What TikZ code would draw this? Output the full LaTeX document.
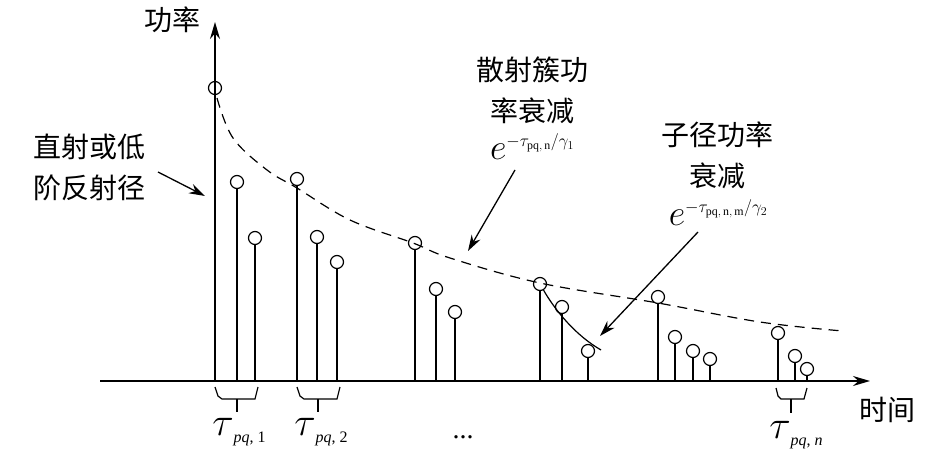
\documentclass[tikz,border=0pt]{standalone}
\usepackage{fontspec}
\setmainfont{Liberation Serif}
\newfontfamily\cjk{Noto Sans CJK SC}
\usetikzlibrary{arrows.meta}
\newcommand{\bigE}{\scalebox{1.45}{\fontsize{24}{28}\selectfont$e$}}
\newcommand{\supx}[1]{\raisebox{13pt}{\fontsize{17}{20}\selectfont$#1$}}
\newcommand{\taulab}[1]{\scalebox{1.6}{\fontsize{24}{28}\selectfont$\tau$}\raisebox{-7pt}{\fontsize{16}{18}\selectfont #1}}
\begin{document}
\begin{tikzpicture}[x=1pt,y=-1pt,
  axis/.style={line width=1.6pt,-{Stealth[length=17pt,width=10pt]}},
  stem/.style={line width=1.3pt},
  pt/.style={circle,draw,line width=1.2pt,minimum size=13pt,inner sep=0pt},
  ann/.style={line width=1.3pt,-{Stealth[length=16pt,width=10pt]}},
  decay/.style={line width=1.2pt,dash pattern=on 10pt off 7pt},
  brk/.style={line width=1.2pt},
  lbl/.style={font=\cjk\fontsize{28}{41}\selectfont,align=center,inner sep=0pt},
  fm/.style={inner sep=0pt},
  tl/.style={inner sep=0pt}]
\useasboundingbox (0,0) rectangle (945,458);
% axes
\coordinate (O) at (215,381);
\coordinate (Xs) at (100,381);
\coordinate (Xe) at (870,381);
\coordinate (Ye) at (215,22);
\draw[axis] (Xs) -- (Xe);
\draw[axis] (O) -- (Ye);
% stems and circles
\foreach \n/\x/\y in {a1/215/88, a2/237/182, a3/255/238,
                      b1/297/179, b2/317/237, b3/337/262,
                      c1/415/243, c2/436/289, c3/455/312,
                      d1/540/284, d2/562/307, d3/588/351,
                      e1/658/297, e2/675/337, e3/693/351, e4/710/359,
                      f1/778/333, f2/795/356, f3/807/369} {
  \node[pt] (\n) at (\x,\y) {};
  \coordinate (\n f) at (\x,381);
  \draw[stem] (\n f) -- (\n);
}
% cluster decay (dashed)
\draw[decay] plot[smooth,tension=0.6] coordinates {(217,98) (233,138) (267,170) (297,188) (350,220) (413,243) (450,258) (540,283) (658,303) (760,322) (843,331)};
% sub-path decay
\coordinate (sd) at (601,350);
\draw[line width=1.2pt] (d1) .. controls (555,310) and (575,335) .. (sd);
% brackets
\draw[brk] (215,387) -- (218,396) -- (222,399) -- (255,399) -- (258,387);
\draw[brk] (237,399) -- (237,412);
\draw[brk] (297,387) -- (300,396) -- (304,399) -- (337,399) -- (340,387);
\draw[brk] (318,399) -- (318,412);
\draw[brk] (776,388) -- (778,396) -- (781,399) -- (804,399) -- (807,388);
\draw[brk] (791,399) -- (791,413);
% labels
\node[lbl] (pw) at (172,20) {功率};
\node[lbl] (tm) at (887,410) {时间};
\node[lbl,align=left] (direct) at (89,167) {直射或低\\阶反射径};
\node[lbl] (clus) at (532,90) {散射簇功\\率衰减};
\node[fm] (fa) at (532,147) {\bigE\supx{-\tau_{\mathrm{pq,\,n}}/\gamma_1}};
\node[lbl] (sub) at (717,155) {子径功率\\衰减};
\node[fm] (fb) at (718,213) {\bigE\supx{-\tau_{\mathrm{pq,\,n,\,m}}/\gamma_2}};
\node[tl] (t1) at (239,432) {\taulab{\textit{pq}, 1}};
\node[tl] (t2) at (321,432) {\taulab{\textit{pq}, 2}};
\node[tl] (tn) at (796,435) {\taulab{\textit{pq}, \textit{n}}};
\node[font=\fontsize{28}{32}\selectfont,inner sep=0pt,anchor=base] (dots) at (463,438) {...};
% annotation arrows
\coordinate (s1) at (158,172);
\coordinate (e1a) at (205,196);
\draw[ann] (s1) -- (e1a);
\coordinate (s2) at (515,170);
\coordinate (e2a) at (468,251);
\draw[ann] (s2) -- (e2a);
\coordinate (s3) at (698,232);
\coordinate (e3a) at (600,336);
\draw[ann] (s3) -- (e3a);
\end{tikzpicture}
\end{document}
